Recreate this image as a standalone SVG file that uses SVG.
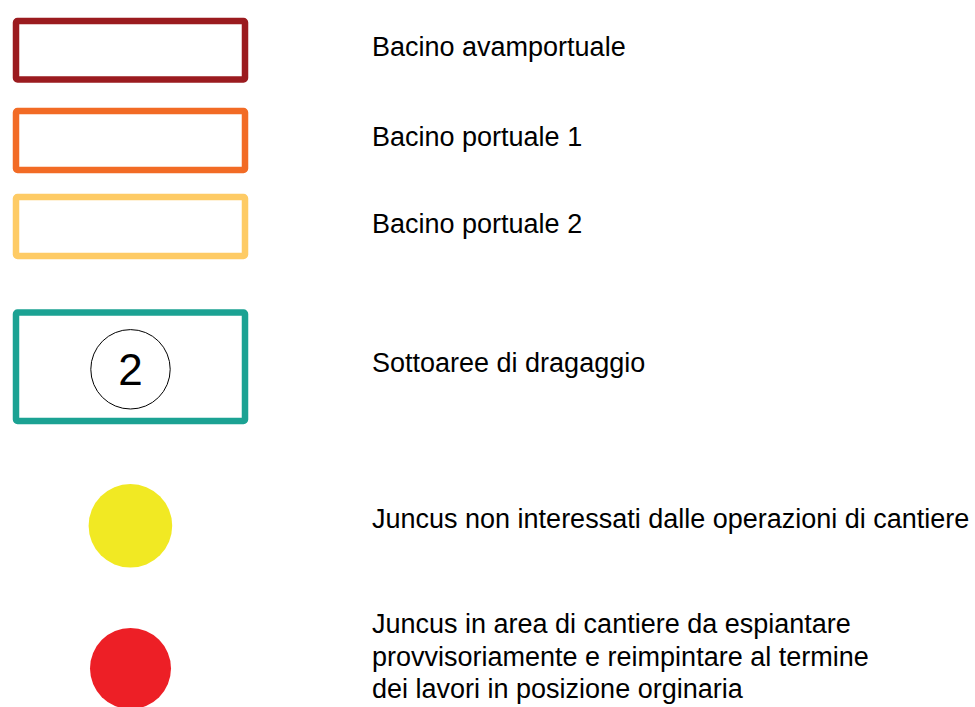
<svg xmlns="http://www.w3.org/2000/svg" width="975" height="707" viewBox="0 0 975 707">
<style>
.box{fill:#ffffff;stroke-width:6.5;stroke-linejoin:round}
.lbl{font-family:"Liberation Sans",Arial,sans-serif;font-size:27px;fill:#000000}
</style>
<rect width="975" height="707" fill="#ffffff"/>
<g id="legend-avamportuale">
<rect class="box" x="16" y="21" width="229" height="58.5" rx="1.5" stroke="#9B1B1F"/>
<text class="lbl" x="372" y="56">Bacino avamportuale</text>
</g>
<g id="legend-portuale1">
<rect class="box" x="16" y="111" width="229" height="59" rx="1.5" stroke="#F26B25"/>
<text class="lbl" x="372" y="146">Bacino portuale 1</text>
</g>
<g id="legend-portuale2">
<rect class="box" x="16" y="197" width="229" height="59" rx="1.5" stroke="#FECB65"/>
<text class="lbl" x="372" y="233">Bacino portuale 2</text>
</g>
<g id="legend-sottoaree">
<rect class="box" x="16" y="312.5" width="229" height="108.5" rx="1.5" stroke="#1BA293"/>
<circle cx="130.5" cy="369.3" r="39.7" fill="#ffffff" stroke="#000000" stroke-width="1"/>
<text x="130.5" y="385" text-anchor="middle" style="font-family:'Liberation Sans',Arial,sans-serif;font-size:44px;fill:#000000">2</text>
<text class="lbl" x="372" y="372">Sottoaree di dragaggio</text>
</g>
<g id="legend-juncus-non">
<circle cx="130.4" cy="525.8" r="41.8" fill="#F1E923"/>
<text class="lbl" x="372" y="528">Juncus non interessati dalle operazioni di cantiere</text>
</g>
<g id="legend-juncus-cantiere">
<circle cx="130.5" cy="668.5" r="40.5" fill="#ED1F26"/>
<text class="lbl" x="372" y="633">Juncus in area di cantiere da espiantare</text>
<text class="lbl" x="372" y="666">provvisoriamente e reimpintare al termine</text>
<text class="lbl" x="372" y="698">dei lavori in posizione orginaria</text>
</g>
<g id="connectors"/>
</svg>
